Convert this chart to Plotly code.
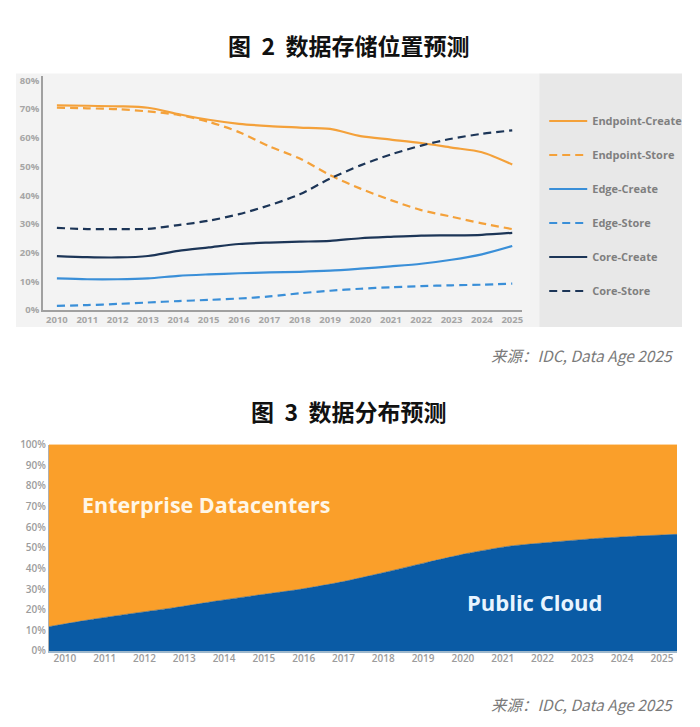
import plotly.graph_objects as go

years = list(range(2010, 2026))

# 图 2 数据存储位置预测 (%)
endpoint_create = [71.3, 71.2, 71.0, 70.5, 68.3, 66.3, 64.9, 64.1, 63.6, 63.1, 60.6, 59.4, 58.2, 56.6, 55.0, 50.7]
endpoint_store = [70.5, 70.3, 70.0, 69.2, 68.0, 65.6, 62.0, 57.0, 52.8, 47.0, 42.3, 38.3, 34.8, 32.5, 30.2, 28.2]
edge_create = [11.0, 10.7, 10.7, 11.0, 11.9, 12.4, 12.8, 13.1, 13.3, 13.7, 14.4, 15.2, 16.1, 17.5, 19.4, 22.3]
edge_store = [1.4, 1.7, 2.1, 2.6, 3.1, 3.5, 4.0, 4.7, 5.8, 6.7, 7.4, 7.9, 8.3, 8.6, 8.8, 9.2]
core_create = [18.8, 18.4, 18.3, 18.8, 20.6, 21.8, 23.0, 23.5, 23.8, 24.1, 25.0, 25.5, 25.9, 26.0, 26.2, 26.9]
core_store = [28.6, 28.2, 28.2, 28.3, 29.6, 31.1, 33.4, 36.5, 40.3, 45.8, 50.4, 54.2, 57.3, 59.7, 61.4, 62.6]

# 图 3 数据分布预测 (%)
public_cloud = [11.8, 15.2, 18.2, 21.0, 24.2, 27.1, 29.9, 33.5, 38.0, 42.8, 47.3, 50.8, 52.7, 54.4, 55.6, 56.5]
enterprise_dc = [88.2, 84.8, 81.8, 79.0, 75.8, 72.9, 70.1, 66.5, 62.0, 57.2, 52.7, 49.2, 47.3, 45.6, 44.4, 43.5]

pct_top = [f'{v}%' for v in range(0, 81, 10)]
pct_bottom = [f'{v}%' for v in range(0, 101, 10)]

ORANGE = '#F4A13A'
BLUE = '#3A8FD8'
NAVY = '#1C3557'
TICK = '#A6A6A6'

W, H = 700, 727


def px_x(p):
    return p / W


def px_y(p):
    # stretch slightly in y, the captured page came out a bit squashed
    q = (p - 7.2) / 0.9835
    return 1 - q / H


fig = go.Figure()

series = [
    ('Endpoint-Create', endpoint_create, ORANGE, 'solid'),
    ('Endpoint-Store', endpoint_store, ORANGE, '8px,5px'),
    ('Edge-Create', edge_create, BLUE, 'solid'),
    ('Edge-Store', edge_store, BLUE, '8px,5px'),
    ('Core-Create', core_create, NAVY, 'solid'),
    ('Core-Store', core_store, NAVY, '8px,5px'),
]
for name, vals, color, dash in series:
    fig.add_trace(go.Scatter(
        x=years, y=vals, name=name, mode='lines',
        line=dict(color=color, width=2.2, dash=dash, shape='spline', smoothing=0.8),
        legendgroup=name, xaxis='x', yaxis='y'
    ))

# bottom stacked area
fig.add_trace(go.Scatter(
    x=years, y=public_cloud, name='Public Cloud', mode='lines', stackgroup='dist',
    line=dict(color='#0A5BA5', width=0.5, shape='spline', smoothing=0.6),
    fillcolor='#0A5BA5', showlegend=False, xaxis='x2', yaxis='y2'
))
fig.add_trace(go.Scatter(
    x=years, y=enterprise_dc, name='Enterprise Datacenters', mode='lines', stackgroup='dist',
    line=dict(color='#FA9F2A', width=0.5, shape='spline', smoothing=0.6),
    fillcolor='#FA9F2A', showlegend=False, xaxis='x2', yaxis='y2'
))
# invisible trace carrying the bottom year labels
fig.add_trace(go.Scatter(
    x=years, y=public_cloud, mode='lines', line=dict(width=0), opacity=0,
    showlegend=False, hoverinfo='skip', xaxis='x3', yaxis='y2'
))

tickfont_top = dict(family='Open Sans', size=9.5, color=TICK, weight='bold')
tickfont_bot = dict(family='Open Sans', size=10, color='#9C9C9C', weight=600)

fig.update_layout(
    width=W, height=H,
    margin=dict(l=0, r=0, t=0, b=0),
    paper_bgcolor='white', plot_bgcolor='rgba(0,0,0,0)',
    showlegend=True,
    legend=dict(
        x=px_x(545), y=px_y(106), xanchor='left', yanchor='top',
        bgcolor='rgba(0,0,0,0)', itemwidth=38, tracegroupgap=15,
        font=dict(family='Open Sans', size=11, color='#7F7F7F', weight='bold')
    ),
    xaxis=dict(
        domain=[px_x(43), px_x(523)], range=[2009.54, 2025.33],
        tickvals=years, ticktext=[str(y) for y in years], tickfont=tickfont_top,
        showgrid=False, zeroline=False, showline=True, linecolor='#A0A0A0', linewidth=1.5,
        ticks='', anchor='y'
    ),
    yaxis=dict(
        domain=[px_y(310), px_y(75)], range=[0, 81.7],
        tickvals=list(range(0, 81, 10)), ticktext=pct_top, tickfont=tickfont_top,
        showgrid=False, zeroline=False, showline=True, linecolor='#A0A0A0', linewidth=1.5,
        ticks='', anchor='x'
    ),
    xaxis2=dict(
        domain=[px_x(49), px_x(678)], range=[2010, 2025],
        showticklabels=False, showgrid=False, zeroline=False,
        showline=True, linecolor='#9FB8CC', linewidth=1.5, ticks='', anchor='y2'
    ),
    xaxis3=dict(
        domain=[px_x(49), px_x(678)], range=[2009.6, 2025.38],
        tickvals=years, ticktext=[str(y) for y in years], tickfont=tickfont_bot,
        showgrid=False, zeroline=False, showline=False, ticks='',
        anchor='y2', overlaying='x2'
    ),
    yaxis2=dict(
        domain=[px_y(652), px_y(445)], range=[0, 100],
        tickvals=list(range(0, 101, 10)), ticktext=pct_bottom, tickfont=tickfont_bot,
        showgrid=False, zeroline=False, showline=True, linecolor='#B0B0B0', linewidth=1,
        ticks='', anchor='x2'
    ),
    shapes=[
        dict(type='rect', xref='paper', yref='paper', layer='below', line=dict(width=0),
             x0=px_x(16), x1=px_x(540), y0=px_y(327), y1=px_y(73), fillcolor='#F3F3F3'),
        dict(type='rect', xref='paper', yref='paper', layer='below', line=dict(width=0),
             x0=px_x(540), x1=px_x(683), y0=px_y(327), y1=px_y(73), fillcolor='#E8E8E8'),
    ],
)

notes = [
    ('<b>图  2  数据存储位置预测</b>', 349, 44, 'center', dict(family='Noto Sans CJK SC', size=23, color='#111111')),
    ('<i>来源：IDC, Data Age 2025</i>', 676, 355, 'right', dict(family='Noto Sans CJK SC', size=15.5, color='#7A7A7A')),
    ('<b>图  3  数据分布预测</b>', 349, 411, 'center', dict(family='Noto Sans CJK SC', size=23, color='#111111')),
    ('<b>Enterprise Datacenters</b>', 80, 505, 'left', dict(family='Open Sans', size=21.5, color='#FFF6E6')),
    ('<b>Public Cloud</b>', 535, 603, 'center', dict(family='Open Sans', size=22, color='#E8F4FF')),
    ('<i>来源：IDC, Data Age 2025</i>', 676, 705, 'right', dict(family='Noto Sans CJK SC', size=15.5, color='#7A7A7A')),
]
for text, x, y, anchor, font in notes:
    fig.add_annotation(text=text, x=px_x(x), y=px_y(y), xref='paper', yref='paper',
                       xanchor=anchor, yanchor='middle', showarrow=False, font=font)

# drop the default 8px page margin so the figure sits at the window origin
fig.write_html("out.html", config={'displayModeBar': False},
               post_script="document.body.style.margin='0';document.body.style.overflow='hidden';")
